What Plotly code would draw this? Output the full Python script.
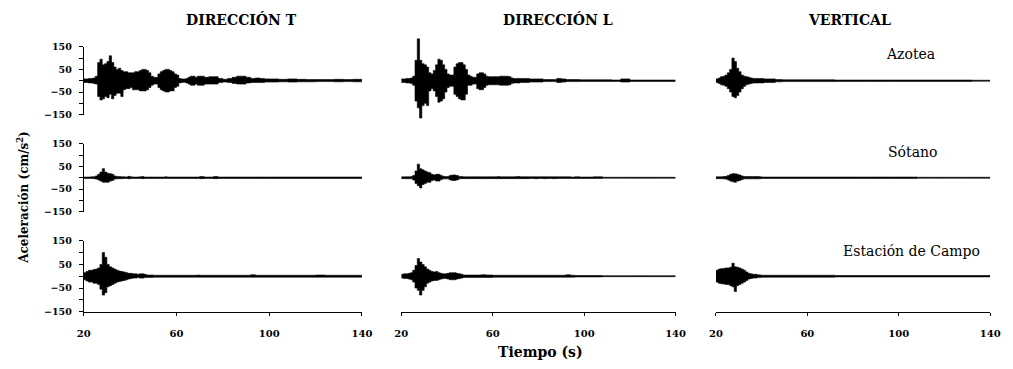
import plotly.graph_objects as go

# ---------------- data (envelopes) ----------------
time_s = ([20, 21, 22, 23, 24, 25, 26, 27, 28, 29, 30, 31, 32, 33, 34, 35, 36, 37, 38, 39,
           40, 41, 42, 43, 44, 45, 46, 47, 48, 49, 50, 51, 52, 53, 54, 55, 56, 57, 58, 59,
           60, 61, 62, 63, 64, 65, 66, 67, 68, 69, 70]
          + [72, 74, 76, 78, 80, 82, 84, 86, 88, 90, 92, 94, 96, 98, 100]
          + [104, 108, 112, 116, 120, 124, 128, 132, 136, 140])

col_titles = ["DIRECCIÓN T", "DIRECCIÓN L", "VERTICAL"]
row_labels = ["Azotea", "Sótano", "Estación de Campo"]
x_ticks = [20, 60, 100, 140]
y_ticks = [-150, -50, 50, 150]
y_minor_step = 50

# Dirección T
T_azotea_up = [8, 8, 10, 10, 12, 20, 80, 95, 70, 75, 85, 110, 80, 60, 50, 55, 45, 40, 40, 35,
               35, 35, 40, 40, 45, 50, 50, 45, 35, 20, 15, 15, 30, 40, 45, 50, 50, 45, 40, 30,
               25, 10, 8, 7, 10, 15, 20, 20, 15, 20, 20,
               15, 18, 18, 10, 6, 10, 15, 20, 20, 15, 10, 12, 10, 8, 8,
               6, 8, 6, 5, 5, 5, 6, 5, 6, 3]
T_azotea_lo = [-8, -8, -10, -10, -12, -15, -70, -85, -80, -70, -75, -60, -80, -65, -55, -55, -70, -40, -35, -35,
               -30, -40, -40, -40, -45, -45, -45, -40, -30, -20, -15, -15, -30, -40, -45, -50, -50, -45, -45, -30,
               -25, -10, -8, -7, -10, -15, -20, -20, -15, -20, -20,
               -15, -15, -15, -8, -6, -8, -12, -15, -15, -10, -8, -8, -8, -6, -6,
               -5, -6, -5, -5, -4, -4, -5, -4, -5, -3]
T_sotano_up = [3, 3, 3, 4, 4, 8, 15, 25, 40, 25, 20, 18, 15, 8, 5, 5, 4, 4, 3, 6,
               4, 3, 3, 3, 4, 5, 3, 3, 3, 3, 3, 3, 3, 3, 3, 4, 3, 3, 3, 3,
               3, 3, 3, 3, 3, 3, 3, 3, 3, 3, 5,
               3, 3, 5, 3, 3, 3, 3, 3, 3, 3, 3, 3, 3, 3, 3,
               3, 3, 3, 3, 3, 3, 3, 3, 3, 3]
T_sotano_lo = [-3, -3, -3, -3, -4, -6, -10, -15, -20, -20, -20, -15, -12, -6, -5, -4, -4, -3, -3, -5,
               -3, -3, -3, -3, -3, -4, -3, -3, -3, -3, -3, -3, -3, -3, -3, -3, -3, -3, -3, -3,
               -3, -3, -3, -3, -3, -3, -3, -3, -3, -3, -4,
               -3, -3, -4, -3, -3, -3, -3, -3, -3, -3, -3, -3, -3, -3, -3,
               -3, -3, -3, -3, -3, -3, -3, -3, -3, -3]
T_campo_up = [15, 20, 25, 25, 28, 30, 35, 50, 100, 80, 50, 40, 35, 30, 25, 22, 20, 18, 15, 12,
              12, 10, 10, 8, 10, 10, 8, 5, 5, 5, 4, 4, 4, 4, 4, 4, 4, 4, 4, 4,
              4, 4, 4, 4, 4, 4, 4, 4, 4, 5, 4,
              4, 4, 4, 4, 4, 4, 4, 4, 4, 4, 6, 4, 4, 4, 4,
              4, 4, 4, 4, 5, 4, 4, 4, 4, 4]
T_campo_lo = [-15, -20, -25, -25, -30, -30, -35, -55, -80, -70, -45, -40, -35, -30, -25, -22, -20, -18, -15, -12,
              -10, -8, -8, -6, -8, -8, -6, -5, -5, -5, -4, -4, -4, -4, -4, -4, -4, -4, -4, -4,
              -4, -4, -4, -4, -4, -4, -4, -4, -4, -4, -4,
              -4, -4, -4, -4, -4, -4, -4, -4, -4, -4, -4, -4, -4, -4, -4,
              -4, -4, -4, -4, -4, -4, -4, -4, -4, -4]

# Dirección L
L_azotea_up = [8, 8, 10, 10, 12, 20, 90, 185, 90, 75, 70, 60, 35, 30, 45, 70, 95, 90, 70, 50,
               30, 25, 25, 60, 75, 80, 80, 70, 50, 25, 20, 15, 15, 30, 35, 35, 30, 20, 18, 18,
               18, 18, 18, 20, 20, 20, 20, 18, 12, 10, 10,
               10, 10, 8, 8, 8, 5, 5, 5, 10, 8, 5, 5, 5, 4, 4,
               4, 4, 3, 8, 3, 3, 3, 3, 3, 3]
L_azotea_lo = [-8, -8, -10, -10, -12, -20, -90, -120, -165, -110, -100, -110, -45, -35, -45, -70, -95, -90, -80, -50,
               -30, -25, -25, -60, -70, -80, -85, -85, -60, -20, -20, -15, -15, -35, -40, -40, -30, -20, -18, -18,
               -18, -18, -18, -20, -20, -20, -20, -18, -12, -10, -10,
               -8, -8, -6, -6, -6, -4, -4, -4, -8, -6, -4, -4, -4, -3, -3,
               -3, -3, -3, -6, -3, -3, -3, -3, -3, -3]
L_sotano_up = [4, 4, 4, 4, 5, 10, 30, 60, 40, 35, 30, 25, 22, 15, 12, 15, 15, 10, 6, 5,
               5, 10, 12, 12, 10, 5, 5, 4, 4, 4, 4, 4, 4, 4, 4, 4, 4, 4, 4, 4,
               4, 4, 5, 4, 4, 4, 4, 4, 4, 4, 5,
               4, 4, 4, 4, 4, 4, 4, 4, 4, 4, 4, 3, 4, 3, 3,
               4, 2, 2, 2, 2, 2, 2, 2, 2, 2]
L_sotano_lo = [-4, -4, -4, -4, -5, -10, -25, -35, -45, -30, -25, -20, -20, -12, -10, -15, -15, -8, -5, -5,
               -5, -10, -12, -12, -10, -5, -4, -4, -4, -4, -4, -4, -4, -4, -4, -4, -4, -4, -4, -4,
               -4, -4, -4, -4, -4, -4, -4, -4, -4, -4, -4,
               -4, -4, -3, -4, -3, -4, -3, -4, -3, -3, -3, -3, -3, -3, -3,
               -3, -2, -2, -2, -2, -2, -2, -2, -2, -2]
L_campo_up = [8, 10, 10, 12, 15, 25, 45, 75, 60, 50, 40, 30, 25, 20, 18, 20, 15, 12, 10, 10,
              12, 15, 15, 15, 12, 10, 8, 5, 5, 5, 5, 5, 5, 5, 5, 6, 6, 5, 5, 5,
              4, 4, 4, 4, 4, 4, 4, 4, 4, 4, 4,
              4, 4, 4, 4, 4, 4, 4, 4, 4, 4, 6, 4, 3, 3, 3,
              3, 2, 2, 2, 2, 2, 2, 2, 2, 2]
L_campo_lo = [-8, -10, -10, -12, -15, -25, -50, -60, -80, -60, -45, -30, -25, -20, -18, -18, -15, -12, -10, -10,
              -12, -15, -15, -15, -12, -10, -8, -5, -5, -5, -5, -5, -5, -5, -5, -5, -5, -5, -5, -5,
              -4, -4, -4, -4, -4, -4, -4, -4, -4, -4, -4,
              -4, -4, -4, -4, -4, -4, -4, -4, -4, -4, -4, -4, -3, -3, -3,
              -3, -2, -2, -2, -2, -2, -2, -2, -2, -2]

# Vertical
V_azotea_up = [8, 12, 18, 20, 25, 35, 50, 100, 85, 55, 40, 25, 20, 18, 15, 12, 10, 10, 10, 10,
               10, 8, 8, 8, 8, 8, 5, 5, 5, 4, 4, 4, 4, 4, 4, 4, 4, 4, 4, 4,
               4, 4, 4, 4, 4, 4, 4, 4, 4, 4, 4,
               3, 3, 3, 3, 3, 3, 3, 3, 3, 3, 3, 3, 3, 3, 3,
               3, 3, 3, 3, 3, 3, 3, 2, 2, 2]
V_azotea_lo = [-8, -12, -18, -20, -25, -35, -50, -70, -75, -65, -50, -35, -25, -18, -15, -12, -10, -10, -10, -10,
               -10, -8, -8, -8, -8, -8, -5, -5, -5, -4, -4, -4, -4, -4, -4, -4, -4, -4, -4, -4,
               -4, -4, -4, -4, -4, -4, -4, -4, -4, -4, -4,
               -3, -3, -3, -3, -3, -3, -3, -3, -3, -3, -3, -3, -3, -3, -3,
               -3, -3, -3, -3, -3, -3, -3, -2, -2, -2]
V_sotano_up = [4, 4, 4, 5, 6, 10, 15, 18, 18, 15, 12, 8, 5, 5, 5, 5, 5, 5, 5, 4,
               3, 3, 3, 3, 3, 3, 3, 3, 3, 3, 3, 3, 3, 3, 3, 3, 3, 3, 3, 3,
               3, 3, 3, 3, 3, 3, 3, 3, 3, 3, 3,
               3, 3, 3, 3, 3, 3, 3, 3, 3, 3, 3, 3, 3, 3, 3,
               3, 2, 2, 2, 2, 2, 2, 2, 2, 2]
V_sotano_lo = [-4, -4, -4, -5, -6, -10, -15, -18, -20, -15, -12, -8, -5, -5, -5, -5, -5, -5, -5, -4,
               -3, -3, -3, -3, -3, -3, -3, -3, -3, -3, -3, -3, -3, -3, -3, -3, -3, -3, -3, -3,
               -3, -3, -3, -3, -3, -3, -3, -3, -3, -3, -3,
               -3, -3, -3, -3, -3, -3, -3, -3, -3, -3, -3, -3, -3, -3, -3,
               -3, -2, -2, -2, -2, -2, -2, -2, -2, -2]
V_campo_up = [25, 30, 32, 33, 35, 35, 38, 55, 40, 38, 35, 30, 25, 18, 12, 10, 8, 8, 6, 5,
              4, 4, 4, 4, 4, 4, 4, 4, 4, 4, 4, 4, 4, 4, 4, 4, 4, 4, 4, 4,
              4, 4, 4, 4, 4, 4, 4, 4, 4, 4, 4,
              3, 3, 3, 3, 3, 3, 3, 3, 3, 3, 3, 3, 3, 3, 3,
              3, 3, 3, 3, 3, 3, 3, 3, 3, 2]
V_campo_lo = [-25, -30, -32, -33, -35, -35, -40, -45, -65, -40, -35, -30, -25, -18, -12, -10, -8, -8, -6, -5,
              -4, -4, -4, -4, -4, -4, -4, -4, -4, -4, -4, -4, -4, -4, -4, -4, -4, -4, -4, -4,
              -4, -4, -4, -4, -4, -4, -4, -4, -4, -4, -4,
              -3, -3, -3, -3, -3, -3, -3, -3, -3, -3, -3, -3, -3, -3, -3,
              -3, -3, -3, -3, -3, -3, -3, -3, -3, -2]

panels = [
    [(T_azotea_up, T_azotea_lo), (L_azotea_up, L_azotea_lo), (V_azotea_up, V_azotea_lo)],
    [(T_sotano_up, T_sotano_lo), (L_sotano_up, L_sotano_lo), (V_sotano_up, V_sotano_lo)],
    [(T_campo_up, T_campo_lo), (L_campo_up, L_campo_lo), (V_campo_up, V_campo_lo)],
]

# ---------------- layout ----------------
W, H = 1013, 369
SERIF = "DejaVu Serif"
col_px = [(78, 361), (401, 680), (721, 1000)]
row_px = [(42, 112), (142, 212), (242, 315)]

fig = go.Figure()
layout = dict(width=W, height=H, margin=dict(l=0, r=0, t=0, b=0),
              paper_bgcolor="white", plot_bgcolor="white", showlegend=False)

for r in range(3):
    for c in range(3):
        k = r * 3 + c + 1
        sfx = "" if k == 1 else str(k)
        up, lo = panels[r][c]
        fig.add_trace(go.Scatter(x=time_s, y=lo, mode="lines",
                                 line=dict(color="black", width=0.6, shape="hv"),
                                 xaxis="x" + sfx, yaxis="y" + sfx, hoverinfo="skip"))
        fig.add_trace(go.Scatter(x=time_s, y=up, mode="lines", fill="tonexty",
                                 fillcolor="black",
                                 line=dict(color="black", width=0.6, shape="hv"),
                                 xaxis="x" + sfx, yaxis="y" + sfx, hoverinfo="skip"))

        x0, x1 = col_px[c]
        y0, y1 = row_px[r]
        if c > 0 and r == 0:
            # extended (invisible) range so the tall spikes are not clipped
            ppu = (y1 - y0) / 300.0
            yr = [-200, 200]
            top_px, bot_px = y0 - 50 * ppu, y1 + 50 * ppu
        else:
            yr = [-150, 150]
            top_px, bot_px = y0, y1

        xa = dict(domain=[x0 / W, x1 / W], range=[20, 140], anchor="y" + sfx,
                  showgrid=False, zeroline=False, fixedrange=True)
        if r == 2:
            xa.update(showline=True, linecolor="black", linewidth=1,
                      ticks="outside", ticklen=3, tickcolor="black",
                      tickvals=x_ticks, ticklabelstandoff=9,
                      tickfont=dict(family=SERIF, size=10, color="black", weight="bold"))
        else:
            xa.update(visible=False)

        ya = dict(domain=[1 - bot_px / H, 1 - top_px / H], range=yr, anchor="x" + sfx,
                  showgrid=False, zeroline=False, fixedrange=True)
        if c == 0:
            ya.update(showline=True, linecolor="black", linewidth=1,
                      ticks="outside", ticklen=4, tickcolor="black",
                      tickvals=y_ticks, ticklabelstandoff=5,
                      minor=dict(ticks="outside", ticklen=4, tickcolor="black",
                                 tick0=0, dtick=y_minor_step, showgrid=False),
                      tickfont=dict(family=SERIF, size=9.5, color="black", weight="bold"))
        else:
            ya.update(visible=False)

        layout["xaxis" + sfx] = xa
        layout["yaxis" + sfx] = ya

annotations = []
title_pos = [(238, 14), (560, 14), (857, 14)]
for t, (px, py) in zip(col_titles, title_pos):
    annotations.append(dict(text=t, x=px / W, y=1 - py / H, xref="paper", yref="paper",
                            showarrow=False, xanchor="center", yanchor="middle",
                            font=dict(family=SERIF, size=14, color="black", weight="bold")))
label_pos = [(919, 49), (921, 150), (920, 253)]
for t, (px, py) in zip(row_labels, label_pos):
    annotations.append(dict(text=t, x=px / W, y=1 - py / H, xref="paper", yref="paper",
                            showarrow=False, xanchor="center", yanchor="middle",
                            font=dict(family=SERIF, size=14, color="black")))
annotations.append(dict(text="Aceleración (cm/s<sup>2</sup>)", x=16 / W, y=1 - 197 / H,
                        xref="paper", yref="paper", showarrow=False, textangle=-90,
                        xanchor="center", yanchor="middle",
                        font=dict(family=SERIF, size=12, color="black", weight="bold")))
annotations.append(dict(text="Tiempo (s)", x=543 / W, y=1 - 357 / H,
                        xref="paper", yref="paper", showarrow=False,
                        xanchor="center", yanchor="middle",
                        font=dict(family=SERIF, size=14, color="black", weight="bold")))
layout["annotations"] = annotations

fig.update_layout(**layout)
fig.write_html("out.html")
